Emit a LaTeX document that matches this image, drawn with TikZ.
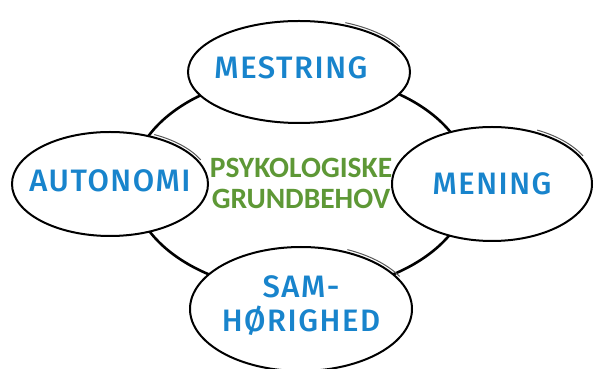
\documentclass[tikz,border=0pt]{standalone}
\usepackage{fontspec}
\setmainfont{Carlito}
\newfontfamily\handfont{Fira Sans}[UprightFont={* Medium}, LetterSpace=5]
\usetikzlibrary{shapes.geometric}
\definecolor{behovgreen}{RGB}{94,152,54}
\definecolor{needblue}{RGB}{24,132,204}

\begin{document}
\begin{tikzpicture}[x=1pt,y=1pt,
        need/.style={ellipse, draw=black, line width=2pt, fill=white, inner sep=0pt},
        needtext/.style={align=center, text=needblue, inner sep=0pt,
                font=\handfont\fontsize{31}{34}\selectfont},
        gloss/.style={draw=black!65, line width=1pt}]
        \useasboundingbox (0,0) rectangle (597,369);

        % centre
        \node [ellipse, draw=black, line width=2.6pt, minimum width=338pt, minimum height=218pt,
                align=center, text=behovgreen, font=\bfseries\fontsize{29.5}{31}\selectfont]
                (behov) at (301,186) {PSYKOLOGISKE\\GRUNDBEHOV};

        % the four needs
        \node [need, minimum width=222pt, minimum height=102pt,
                label={[needtext, xshift=-8pt, yshift=4pt]center:MESTRING}] (mestring) at (299,297) {};
        \node [need, minimum width=196pt, minimum height=104pt,
                label={[needtext, yshift=3pt]center:AUTONOMI}] (autonomi) at (110,185) {};
        \node [need, minimum width=200pt, minimum height=114pt,
                label={[needtext]center:MENING}] (mening) at (492,185) {};
        \node [need, minimum width=222pt, minimum height=124pt,
                label={[needtext, yshift=3pt]center:SAM-\\HØRIGHED}] (samhoerighed) at (301,60) {};

        % sketchy strokes
        \draw [gloss] (mestring.center) ++(28:114 and 54) arc[start angle=28, end angle=66, x radius=114, y radius=54];
        \draw [gloss] (autonomi.center) ++(26:101 and 55) arc[start angle=26, end angle=64, x radius=101, y radius=55];
        \draw [gloss] (mening.center) ++(28:103 and 60) arc[start angle=28, end angle=64, x radius=103, y radius=60];
        \draw [gloss] (samhoerighed.center) ++(30:114 and 65) arc[start angle=30, end angle=66, x radius=114, y radius=65];

\end{tikzpicture}
\end{document}
